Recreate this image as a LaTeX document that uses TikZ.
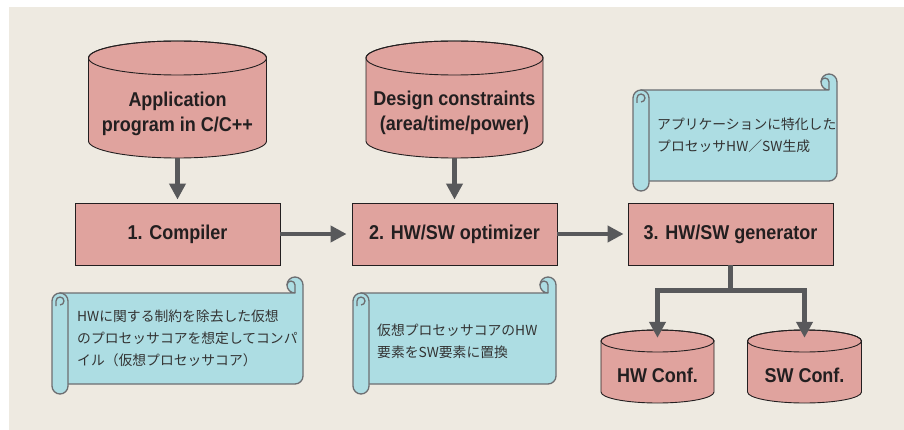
\documentclass[tikz,border=0pt]{standalone}
\usepackage{fontspec}
\setmainfont{Liberation Sans}
\newfontfamily\lab[FakeStretch=0.9]{Liberation Sans}
\newfontfamily\jp{Noto Sans CJK JP}
\usetikzlibrary{arrows.meta,calc}
\definecolor{bg}{HTML}{EEEAE1}
\definecolor{pinkf}{HTML}{E0A39E}
\definecolor{cyanf}{HTML}{ADDDE3}
\definecolor{edge}{HTML}{231F20}
\definecolor{arrowc}{HTML}{58595B}
\definecolor{scrolledge}{HTML}{6D6E71}
\definecolor{txt}{HTML}{231F20}
\definecolor{jtxt}{HTML}{333333}
% cylinder: cx, y of top ellipse centre, y of bottom ellipse centre, rx, ry
\newcommand\drawcyl[5]{%
  \path[fill=pinkf, draw=edge, line width=0.9pt]
    (#1-#4,#2) -- (#1-#4,#3) arc[start angle=180,end angle=0,x radius=#4,y radius=#5]
    -- (#1+#4,#2) arc[start angle=0,end angle=-180,x radius=#4,y radius=#5] -- cycle;
  \draw[edge, line width=0.9pt] (#1,#2) ellipse[x radius=#4, y radius=#5];
}
% scroll: L, T, R, B
\newcommand\drawscroll[4]{%
  \path[scrollpath] (#1+8,#2+16) -- (#3-8,#2+16) arc[start angle=90,end angle=360,radius=8]
    -- (#3,#4-18) arc[start angle=0,end angle=90,radius=8] -- (#1+8,#4-10) -- cycle;
  \draw[scrollline] (#3-8,#2+16) -- (#3-8,#2+8) arc[start angle=0,end angle=-180,radius=4];
  \path[scrollpath] (#1,#2+24) arc[start angle=180,end angle=360,radius=8]
    -- (#1+16,#4-8) arc[start angle=0,end angle=180,radius=8] -- cycle;
  \draw[scrollline] (#1+4,#2+29) -- (#1+4,#2+24) arc[start angle=180,end angle=450,radius=4];
}
\begin{document}
\begin{tikzpicture}[x=1pt,y=-1pt,
  box/.style={draw=edge, line width=0.9pt, fill=pinkf, minimum width=205pt, minimum height=62pt,
    inner sep=0pt, font=\lab\bfseries\fontsize{20}{25}\selectfont, text=txt},
  cyltext/.style={align=center, inner sep=0pt, font=\lab\bfseries\fontsize{20}{25}\selectfont, text=txt},
  cylarea/.style={inner sep=0pt, draw=none},
  arr/.style={draw=arrowc, line width=4.5pt, -{Triangle[width=16pt,length=16pt]}},
  jtext/.style={align=left, font=\jp\fontsize{13.8}{22}\selectfont, text=jtxt, anchor=west, inner sep=0pt},
  scrollpath/.style={fill=cyanf, draw=scrolledge, line width=1.3pt, line join=round},
  scrollline/.style={draw=scrolledge, line width=1.3pt},
]
\fill[white] (0,0) rectangle (904,430);
\fill[bg] (9,7) rectangle (904,430);

% cylinders
\drawcyl{177.5}{58}{141}{89}{17}
\node[cylarea, minimum width=178pt, minimum height=117pt] (app) at (177.5,99.5) {};
\node[cyltext] (apptext) at (177.5,114) {Application\\program in C/C++};

\drawcyl{454.5}{58}{141}{88.5}{17}
\node[cylarea, minimum width=177pt, minimum height=117pt] (dc) at (454.5,99.5) {};
\node[cyltext] (dctext) at (454.5,113) {Design constraints\\(area/time/power)};

\drawcyl{657.5}{341}{392}{56.5}{11}
\node[cylarea, minimum width=113pt, minimum height=73pt] (hw) at (657.5,366.5) {};
\node[cyltext] (hwtext) at (657.5,375) {HW Conf.};

\drawcyl{804.5}{341}{392}{57}{11}
\node[cylarea, minimum width=114pt, minimum height=73pt] (sw) at (804.5,366.5) {};
\node[cyltext] (swtext) at (804.5,375) {SW Conf.};

% boxes
\node[box] (comp) at (177.5,234) {1. Compiler};
\node[box] (opt) at (454.5,234) {2. HW/SW optimizer};
\node[box] (gen) at (730.5,234) {3. HW/SW generator};

% scrolls
\drawscroll{52}{277}{303}{394}
\node[jtext] (note1) at (77,338.5) {HWに関する制約を除去した仮想\\のプロセッサコアを想定してコンパ\\イル（仮想プロセッサコア）};
\drawscroll{353}{277}{556}{394}
\node[jtext] (note2) at (377,341) {仮想プロセッサコアのHW\\要素をSW要素に置換};
\drawscroll{633}{74}{837}{191}
\node[jtext] (note3) at (657,135) {アプリケーションに特化した\\プロセッサHW／SW生成};

% arrows
\draw[arr] (app.south) -- ([yshift=3pt]comp.north);
\draw[arr] (dc.south) -- ([yshift=3pt]opt.north);
\draw[arr] (comp.east) -- ([xshift=-5pt]opt.west);
\draw[arr] (opt.east) -- ([xshift=-4pt]gen.west);
\draw[arr] (gen.south) -- ++(0,25) -| ([yshift=-8pt]hw.north);
\draw[arr] (gen.south) -- ++(0,25) -| ([yshift=-8pt]sw.north);
\end{tikzpicture}
\end{document}
